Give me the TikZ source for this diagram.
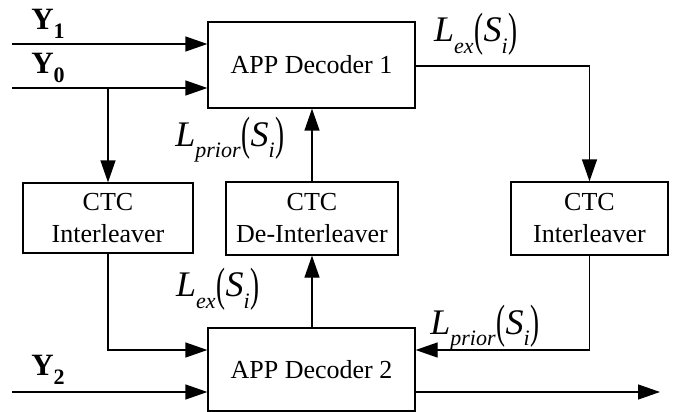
\documentclass[tikz,border=0pt]{standalone}
\usepackage{fontspec}
\setmainfont{Liberation Serif}
\usetikzlibrary{arrows.meta}
\newcommand\sublab[1]{\raisebox{-0.32em}{\fontsize{22}{22}\selectfont\itshape #1}}
\newcommand\LLab[1]{{\fontsize{36}{36}\selectfont\itshape L\sublab{#1}\kern1pt\raisebox{-0.1em}{\scalebox{0.75}[1.3]{\upshape(}}S\sublab{i}\kern1pt\raisebox{-0.1em}{\scalebox{0.75}[1.3]{\upshape)}}}}
\newcommand\Ylab[1]{{\fontsize{31}{31}\selectfont\bfseries Y\raisebox{-0.28em}{\fontsize{22}{22}\selectfont #1}}}
\tikzset{
  blk/.style={draw, line width=1.3pt, inner sep=0pt, align=center, font=\fontsize{26}{32}\selectfont},
  conn/.style={line width=1.3pt, -{Triangle[length=22pt,width=15pt]}},
  wire/.style={line width=1.3pt},
  lab/.style={inner sep=0pt, anchor=center}
}
\begin{document}
\begin{tikzpicture}[x=1pt,y=-1pt]
\useasboundingbox[fill=white] (0,0) rectangle (673,412);
% blocks
\node[blk, minimum width=207pt, minimum height=86pt] (d1) at (311.5,65) {APP Decoder 1};
\node[blk, minimum width=207pt, minimum height=83pt] (d2) at (311.5,369.5) {APP Decoder 2};
\node[blk, minimum width=170pt, minimum height=70pt] (il) at (108,218) {CTC\\Interleaver};
\node[blk, minimum width=172pt, minimum height=73pt] (di) at (312,218.5) {CTC\\De-Interleaver};
\node[blk, minimum width=157pt, minimum height=73pt] (ir) at (589.5,218.5) {CTC\\Interleaver};
% free ends
\coordinate (y1s) at (12,44);
\coordinate (y0s) at (12,88);
\coordinate (y2s) at (12,392);
\coordinate (out) at (660,392);
\coordinate (br) at (108,88);
% labels
\node[lab] (ly1) at (48,24) {\Ylab{1}};
\node[lab] (ly0) at (48,68) {\Ylab{0}};
\node[lab] (ly2) at (48,370) {\Ylab{2}};
\node[lab] (l1) at (476,34) {\LLab{ex}};
\node[lab] (l2) at (230,140) {\LLab{prior}};
\node[lab] (l3) at (218,289) {\LLab{ex}};
\node[lab] (l4) at (485,328) {\LLab{prior}};
% connectors
\draw[conn] (y1s) -- (d1.west |- y1s);
\draw[conn] (y0s) -- (d1.west |- y0s);
\draw[conn] (br) -- (il.north);
\draw[conn] (il.south) |- (d2.west |- 0,350);
\draw[conn] (y2s) -- (d2.west |- y2s);
\draw[conn] (d2.north -| di) -- (di.south);
\draw[conn] (di.north) -- (d1.south -| di);
\draw[conn] (d1.east |- 0,66) -| (ir.north);
\draw[conn] (ir.south) |- (d2.east |- 0,350);
\draw[conn] (d2.east |- out) -- (out);
\end{tikzpicture}
\end{document}
